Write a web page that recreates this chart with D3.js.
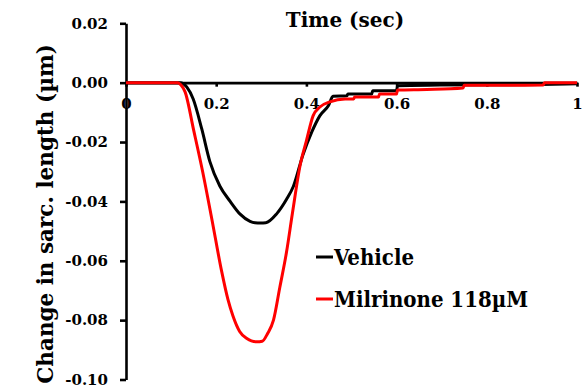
<!DOCTYPE html>
<html>
<head>
<meta charset="utf-8">
<script src="https://cdn.jsdelivr.net/npm/d3@7/dist/d3.min.js"></script>
<style>
  html, body { margin: 0; padding: 0; background: #fff; }
  svg { display: block; }
</style>
</head>
<body>
<svg id="chart" width="583" height="388"></svg>
<script>
// Sarcomere shortening transients (change in length, µm) over one beat
const vehicleTime = [0, 0.120, 0.135, 0.149, 0.168, 0.186, 0.208, 0.231, 0.253, 0.275, 0.286, 0.298, 0.310,
  0.334, 0.356, 0.371, 0.392, 0.412, 0.430, 0.449, 0.459, 0.490, 0.492, 0.545, 0.547,
  0.600, 0.602, 0.696, 0.918, 1.0];
const vehicleValues = [0, 0, -0.0015, -0.0055, -0.0156, -0.0266, -0.0348, -0.0400, -0.0443, -0.0467, -0.0472, -0.0473, -0.0472,
  -0.0442, -0.0393, -0.0350, -0.0245, -0.0166, -0.0111, -0.0077, -0.0046, -0.0044, -0.0038, -0.0038, -0.0027,
  -0.0027, -0.0010, -0.0008, -0.0006, -0.0004];

const milrinoneTime = [0, 0.115, 0.122, 0.131, 0.150, 0.170, 0.191, 0.212, 0.226, 0.237, 0.252, 0.268,
  0.278, 0.290, 0.302, 0.314, 0.327, 0.341, 0.356, 0.369, 0.386, 0.400, 0.415, 0.430, 0.452, 0.486,
  0.505, 0.507, 0.560, 0.562, 0.600, 0.602, 0.667, 0.747, 0.750, 0.925, 0.928, 1.0];
const milrinoneValues = [0, 0, -0.0008, -0.0031, -0.0160, -0.0300, -0.0465, -0.0635, -0.0730, -0.0785, -0.0838, -0.0862,
  -0.0870, -0.0873, -0.0871, -0.0845, -0.0800, -0.0690, -0.0570, -0.0440, -0.0279, -0.0196, -0.0111, -0.0082, -0.0065, -0.0055,
  -0.0055, -0.0048, -0.0048, -0.0038, -0.0038, -0.0025, -0.0023, -0.0018, -0.0009, -0.0008, 0, 0];

const xTicks = [0, 0.2, 0.4, 0.6, 0.8, 1];
const yTicks = [0.02, 0, -0.02, -0.04, -0.06, -0.08, -0.10];

const seriesNames = ["Vehicle", "Milrinone 118\u00b5M"];
const seriesColors = ["#000000", "#ff0000"];

const FONT = "DejaVu Serif";

const svg = d3.select("#chart");

const x = d3.scaleLinear().domain([0, 1]).range([126, 577]);
const y = d3.scaleLinear().domain([-0.10, 0.02]).range([379.5, 23.3]);

// y axis
const yAxis = svg.append("g")
  .attr("transform", `translate(${x(0)},0)`)
  .call(d3.axisLeft(y).tickValues(yTicks).tickSize(6).tickSizeOuter(0).tickPadding(12)
    .tickFormat(d => d.toFixed(2)));
// x axis at zero
const xAxis = svg.append("g")
  .attr("transform", `translate(0,${y(0)})`)
  .call(d3.axisBottom(x).tickValues(xTicks).tickSize(4).tickSizeOuter(0).tickPadding(12)
    .tickFormat(d3.format("~g")));

[yAxis, xAxis].forEach(g => {
  g.attr("font-family", FONT).attr("font-size", 15).attr("font-weight", "bold");
  g.select(".domain").attr("stroke", "#000").attr("stroke-width", 2.6);
  g.selectAll(".tick line").attr("stroke", "#000").attr("stroke-width", 2.6);
  g.selectAll(".tick text").attr("fill", "#000");
});

// curves
const line = d3.line().x(d => x(d[0])).y(d => y(d[1])).curve(d3.curveMonotoneX);
const series = [
  d3.zip(vehicleTime, vehicleValues),
  d3.zip(milrinoneTime, milrinoneValues)
];
series.forEach((pts, i) => {
  svg.append("path")
    .datum(pts)
    .attr("fill", "none")
    .attr("stroke", seriesColors[i])
    .attr("stroke-width", 3)
    .attr("stroke-linejoin", "round")
    .attr("d", line);
});

// axis titles
svg.append("text")
  .attr("x", 345).attr("y", 27)
  .attr("text-anchor", "middle")
  .attr("font-family", FONT).attr("font-weight", "bold").attr("font-size", 20)
  .text("Time (sec)");

svg.append("text")
  .attr("transform", "translate(53,214) rotate(-90)")
  .attr("text-anchor", "middle")
  .attr("font-family", FONT).attr("font-weight", "bold").attr("font-size", 21.5)
  .text("Change in sarc. length (\u00b5m)");

// legend
const legendY = [257, 299];
seriesNames.forEach((name, i) => {
  svg.append("line")
    .attr("x1", 316).attr("x2", 333)
    .attr("y1", legendY[i]).attr("y2", legendY[i])
    .attr("stroke", seriesColors[i]).attr("stroke-width", 3);
  svg.append("text")
    .attr("x", 334).attr("y", legendY[i] + 8)
    .attr("font-family", FONT)
    .style("font-stretch", "condensed")
    .attr("font-weight", "bold").attr("font-size", 22)
    .text(name);
});
</script>
</body>
</html>
